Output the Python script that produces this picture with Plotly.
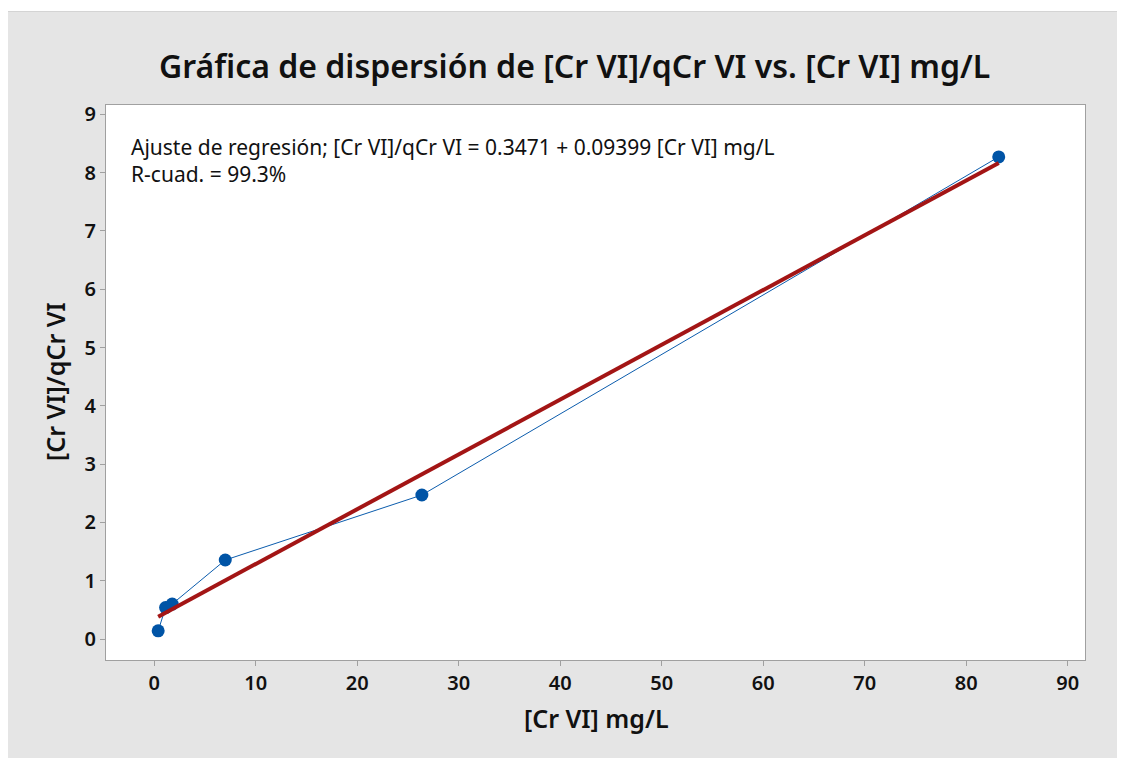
import plotly.graph_objects as go

# Data
cr_vi = [0.39, 1.12, 1.77, 7.0, 26.37, 83.2]
ratio = [0.14, 0.54, 0.60, 1.355, 2.47, 8.27]
intercept = 0.3471
slope = 0.09399
x_ticks = [0, 10, 20, 30, 40, 50, 60, 70, 80, 90]
y_ticks = [0, 1, 2, 3, 4, 5, 6, 7, 8, 9]

fit_x = [min(cr_vi), max(cr_vi)]
fit_y = [intercept + slope * v for v in fit_x]

FONT = "Noto Sans"
INK = "#111111"
# page body adds an 8px offset, so the figure is 8px smaller than the window
W, H = 1117, 750
L, R, T, B = 98, 40, 97, 98
pw, ph = W - L - R, H - T - B

def px(xp):
    return (xp - L) / pw

def py(yp):
    return (H - B - yp) / ph

fig = go.Figure()
fig.add_trace(go.Scatter(
    x=cr_vi, y=ratio, mode="lines+markers",
    line=dict(color="#0b5cad", width=1),
    marker=dict(color="#0054a6", size=13),
    showlegend=False,
))
fig.add_trace(go.Scatter(
    x=fit_x, y=fit_y, mode="lines",
    line=dict(color="#a31515", width=4),
    showlegend=False,
))

axis_common = dict(
    showgrid=False, zeroline=False,
    ticks="outside", ticklen=5, tickcolor="#a0a0a0", tickwidth=1,
    showline=True, linecolor="#a0a0a0", linewidth=1, mirror=True,
    tickfont=dict(family=FONT, size=20, color=INK, weight=600),
)

fig.update_xaxes(range=[-4.75, 91.7], tickvals=x_ticks, **axis_common)
fig.update_yaxes(range=[-0.36, 9.16], tickvals=y_ticks, **axis_common)

fig.update_layout(
    width=W, height=H,
    margin=dict(l=L, r=R, t=T, b=B),
    paper_bgcolor="#e5e5e5", plot_bgcolor="white",
    font=dict(family=FONT),
    annotations=[
        dict(text="Gráfica de dispersión de [Cr VI]/qCr VI vs. [Cr VI] mg/L",
             xref="paper", yref="paper", x=px(566), y=py(57),
             xanchor="center", yanchor="middle", showarrow=False,
             font=dict(family=FONT, size=32, color=INK, weight=600)),
        dict(text="Ajuste de regresión; [Cr VI]/qCr VI = 0.3471 + 0.09399 [Cr VI] mg/L<br>R-cuad. = 99.3%",
             xref="paper", yref="paper", x=px(121), y=py(123),
             xanchor="left", yanchor="top", align="left", showarrow=False,
             font=dict(family=FONT, size=21, color=INK)),
        dict(text="[Cr VI] mg/L",
             xref="paper", yref="paper", x=px(588), y=py(710),
             xanchor="center", yanchor="middle", showarrow=False,
             font=dict(family=FONT, size=25, color=INK, weight=600)),
        dict(text="[Cr VI]/qCr VI",
             xref="paper", yref="paper", x=px(47), y=py(374),
             xanchor="center", yanchor="middle", showarrow=False, textangle=-90,
             font=dict(family=FONT, size=25, color=INK, weight=600)),
    ],
    shapes=[
        dict(type="rect", xref="paper", yref="paper", x0=px(-5), x1=px(W + 5), y0=py(-5), y1=py(3),
             fillcolor="white", line=dict(width=0), layer="below"),
        dict(type="line", xref="paper", yref="paper", x0=px(0), x1=px(W + 5), y0=py(3.5), y1=py(3.5),
             line=dict(color="#d4d4d4", width=1), layer="below"),
    ],
)

fig.write_html("out.html")
